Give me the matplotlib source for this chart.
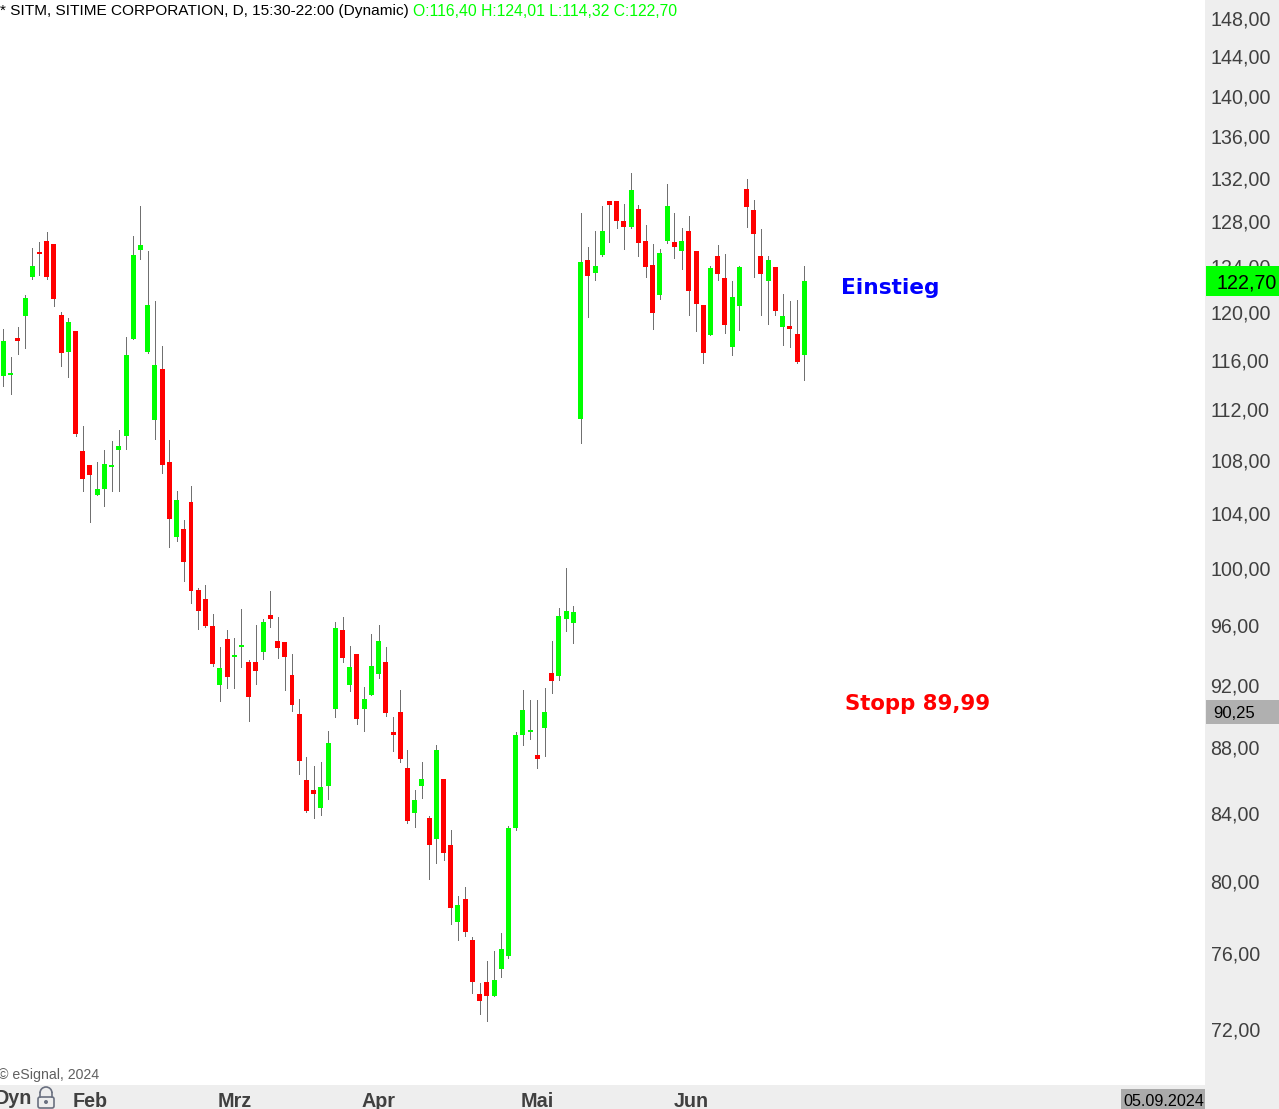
import matplotlib
matplotlib.use('Agg')
import matplotlib.pyplot as plt
from matplotlib.patches import Rectangle, FancyBboxPatch, Arc, Circle
from matplotlib.ticker import NullFormatter, NullLocator

plt.rcParams['font.family'] = ['Liberation Sans', 'DejaVu Sans']

# Data
opens = [114.66, 114.74, 117.81, 119.67, 123.04, 125.26, 126.24, 125.97, 119.76, 116.64, 118.40, 108.70, 107.62, 105.34,
         105.79, 107.46, 108.77, 109.86, 117.73, 125.43, 116.64, 111.12, 115.24, 107.85, 102.23, 102.82, 104.82, 98.45,
         97.82, 95.95, 92.00, 95.07, 93.86, 94.53, 93.52, 93.52, 94.19, 96.71, 94.93, 94.86, 92.66, 90.12,
         85.98, 85.37, 84.28, 85.61, 90.44, 95.68, 92.00, 94.06, 90.44, 91.35, 92.73, 93.52, 88.97, 90.25,
         86.72, 83.98, 85.61, 83.68, 82.44, 86.04, 82.09, 77.70, 78.99, 76.71, 73.82, 74.45, 73.71, 75.15,
         75.84, 83.09, 88.78, 88.97, 87.52, 89.22, 92.79, 92.59, 96.43, 96.16, 111.20, 124.54, 123.40, 124.99,
         129.89, 129.89, 128.05, 127.51, 129.15, 126.24, 124.10, 121.48, 126.24, 126.15, 125.35, 127.14, 125.35, 120.61,
         118.06, 124.90, 122.96, 117.06, 120.53, 131.01, 129.06, 124.90, 122.69, 123.92, 118.74, 118.82, 118.15, 116.40]
highs = [118.57, 116.23, 118.74, 121.48, 125.61, 126.15, 127.05, 125.97, 120.01, 119.50, 118.40, 110.65, 107.62, 107.85,
         108.77, 109.47, 110.33, 117.89, 126.69, 129.43, 125.35, 120.96, 117.14, 109.55, 105.64, 103.48, 106.02, 98.59,
         98.80, 96.78, 94.53, 95.68, 95.13, 97.12, 93.65, 96.02, 96.43, 98.38, 96.57, 94.86, 94.06, 91.09,
         87.40, 86.84, 87.09, 89.03, 96.23, 96.57, 94.59, 94.06, 91.87, 95.41, 96.02, 94.53, 89.93, 91.67,
         87.84, 85.37, 87.09, 83.80, 88.15, 86.04, 82.97, 79.16, 79.67, 76.88, 74.40, 75.57, 76.12, 77.10,
         83.21, 88.97, 91.67, 91.02, 91.02, 91.80, 94.93, 97.19, 100.00, 97.33, 128.79, 125.70, 127.14, 129.43,
         129.89, 129.89, 129.61, 132.51, 129.52, 127.69, 125.97, 125.52, 131.48, 128.79, 127.42, 128.51, 125.35, 120.61,
         124.01, 125.88, 125.08, 122.69, 124.01, 131.94, 129.98, 127.33, 124.90, 123.92, 121.56, 120.96, 121.04, 124.01]
lows = [113.85, 113.20, 116.47, 116.97, 122.87, 123.22, 122.87, 120.53, 115.48, 114.58, 109.86, 105.64, 103.33, 105.34,
        104.52, 105.64, 105.64, 108.85, 117.73, 124.63, 116.56, 109.63, 107.00, 101.51, 101.94, 99.08, 97.54, 95.75,
        95.88, 93.26, 90.96, 91.80, 91.80, 93.19, 89.67, 92.07, 93.72, 95.88, 93.79, 91.67, 90.31, 86.35,
        84.04, 83.68, 83.86, 84.82, 89.93, 93.52, 91.61, 89.48, 89.03, 91.35, 92.46, 89.99, 87.77, 87.09,
        83.38, 83.15, 84.88, 80.12, 81.04, 81.21, 77.59, 76.71, 76.93, 73.87, 72.77, 72.41, 73.71, 74.72,
        75.74, 82.97, 88.15, 88.53, 86.72, 87.46, 91.48, 92.33, 95.61, 94.80, 109.32, 119.59, 122.78, 124.90,
        126.15, 127.42, 125.52, 127.42, 124.90, 123.04, 118.57, 121.13, 126.06, 124.72, 123.75, 119.76, 118.40, 115.73,
        118.06, 122.78, 118.23, 116.39, 118.48, 127.51, 123.04, 119.76, 118.99, 119.76, 117.22, 117.06, 115.73, 114.32]
closes = [117.56, 114.91, 117.56, 121.22, 124.01, 125.08, 123.04, 121.13, 116.56, 119.16, 110.02, 106.55, 106.85, 105.79,
          107.69, 107.62, 109.08, 116.39, 124.99, 125.88, 120.61, 115.57, 107.62, 103.55, 104.97, 100.43, 98.38, 96.98,
          95.95, 93.39, 93.12, 92.53, 93.99, 94.66, 91.22, 92.92, 96.23, 96.43, 94.46, 93.86, 90.70, 87.15,
          84.10, 85.13, 85.55, 88.28, 95.82, 93.79, 93.19, 89.80, 91.09, 93.26, 94.93, 90.18, 88.78, 87.28,
          83.50, 84.76, 86.04, 82.09, 87.84, 81.62, 78.48, 78.65, 77.15, 74.45, 73.45, 73.71, 74.56, 76.22,
          83.09, 88.78, 90.38, 89.10, 87.28, 90.25, 92.26, 96.64, 96.98, 96.91, 124.37, 123.13, 124.01, 127.14,
          129.52, 128.05, 127.51, 130.91, 126.06, 123.92, 119.93, 125.17, 129.43, 125.70, 126.24, 121.82, 120.70, 116.56,
          123.84, 123.31, 118.91, 121.30, 123.92, 129.34, 126.87, 123.31, 124.54, 120.10, 119.67, 118.57, 115.81, 122.70]

price_ticks = [148, 144, 140, 136, 132, 128, 124, 120, 116, 112, 108, 104, 100, 96, 92, 88, 84, 80, 76, 72]
month_names = ['Feb', 'Mrz', 'Apr', 'Mai', 'Jun']
month_pos = [12, 32, 52, 74, 95.3]

W, H = 1279, 1109
fig = plt.figure(figsize=(W / 100, H / 100), dpi=100, facecolor='#eeeeee')
ax = fig.add_axes([0, 24 / H, 1205 / W, 1085 / H], facecolor='white')


# figure pixels, measured from the top left
def fx(x):
    return x / W


def fy(y):
    return 1 - y / H


# candles
for i in range(len(opens)):
    up = closes[i] >= opens[i]
    ax.vlines(i, lows[i], highs[i], color='#707070', lw=0.72, zorder=2, antialiased=False)
    ax.bar(i, abs(closes[i] - opens[i]), 0.69, bottom=min(opens[i], closes[i]),
           color='#00ff00' if up else '#ff0000', lw=0, zorder=3, antialiased=False)

ax.set_yscale('log')
ax.set_ylim(69.18, 149.88)
ax.set_xlim(-0.471, 166.54)
for s in ax.spines.values():
    s.set_visible(False)

ax.yaxis.tick_right()
ax.set_yticks(price_ticks)
ax.set_yticklabels(['%d,00' % p for p in price_ticks], fontsize=14.1, color='#404040')
ax.yaxis.set_minor_locator(NullLocator())
ax.yaxis.set_minor_formatter(NullFormatter())
ax.tick_params(axis='y', length=0, pad=4)

ax.set_xticks(month_pos)
ax.set_xticklabels(month_names, fontsize=14.2, fontweight='bold', color='#404040')
ax.tick_params(axis='x', length=0, pad=4.8)

# header
fig.text(fx(0), fy(11), '* SITM, SITIME CORPORATION, D, 15:30-22:00 (Dynamic)', fontsize=11.05, color='black', va='center')
fig.text(fx(413), fy(11), 'O:116,40 H:124,01 L:114,32 C:122,70', fontsize=11.35, color='#00ff00', va='center')

# annotations
fig.text(fx(841), fy(288), 'Einstieg', family='DejaVu Sans', fontsize=15.6, fontweight='bold', color='#0000ff', va='center')
fig.text(fx(845), fy(704), 'Stopp 89,99', family='DejaVu Sans', fontsize=15.3, fontweight='bold', color='#ff0000', va='center')
fig.text(fx(-2), fy(1075), '© eSignal, 2024', fontsize=10.2, color='#606060', va='center')


# value boxes
def box(x0, y0, x1, y1, color):
    fig.add_artist(Rectangle((fx(x0), fy(y1)), (x1 - x0) / W, (y1 - y0) / H, transform=fig.transFigure,
                             facecolor=color, edgecolor='none', zorder=2))


box(1206, 266, 1279, 296, '#00ff00')
fig.text(fx(1216), fy(283), '122,70', fontsize=14.1, color='black', va='center', zorder=3)
box(1206, 700, 1279, 724, '#b0b0b0')
fig.text(fx(1213), fy(713), '90,25', fontsize=12, color='black', va='center', zorder=3)
box(1121, 1089, 1205, 1109, '#aaaaaa')
fig.text(fx(1123), fy(1101), '05.09.2024', fontsize=11.6, color='black', va='center', zorder=3)

# Dyn and the lock
fig.text(fx(-5), fy(1099), 'Dyn', fontsize=14.2, fontweight='bold', color='#404040', va='center')
lock = '#6a7080'
fig.add_artist(FancyBboxPatch((38, H - 1108), 16, 11, boxstyle='round,pad=0,rounding_size=2', transform=None,
                              facecolor='none', edgecolor=lock, lw=1.2))
fig.add_artist(Arc((46, H - 1093), 12, 12, theta1=0, theta2=180, transform=None, edgecolor=lock, lw=1.2))
for x in (40, 52):
    fig.add_artist(plt.Line2D([x, x], [H - 1097, H - 1093], transform=None, color=lock, lw=1.2))
fig.add_artist(Circle((46, H - 1102), 2, transform=None, facecolor=lock, edgecolor='none'))

plt.savefig('out.png', dpi=100)
